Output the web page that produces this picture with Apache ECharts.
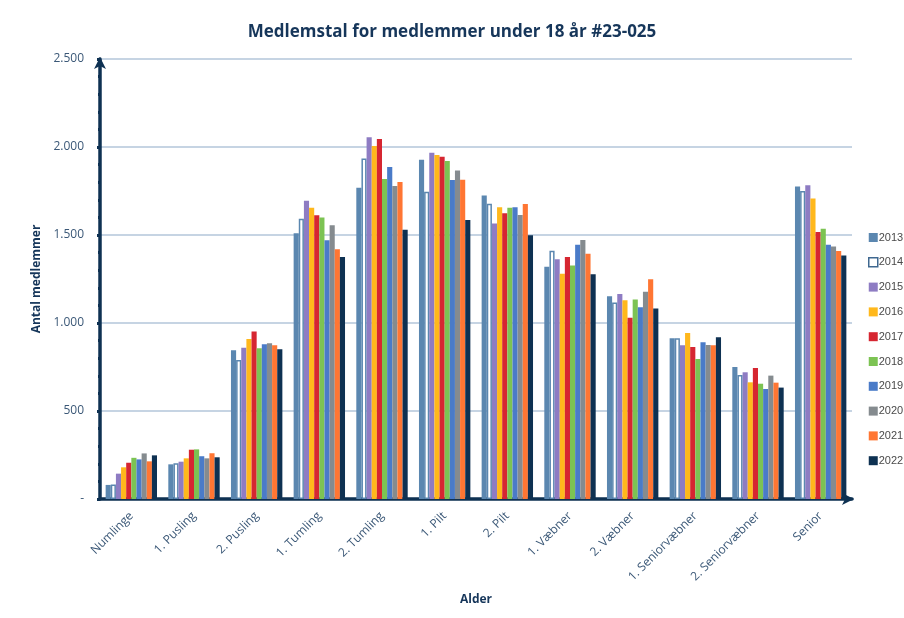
<!DOCTYPE html>
<html>
<head>
<meta charset="utf-8">
<script src="https://cdn.jsdelivr.net/npm/echarts@6/dist/echarts.min.js"></script>
<style>
  html, body { margin: 0; padding: 0; background: #fff; }
  #chart { width: 904px; height: 618px; }
</style>
</head>
<body>
<div id="chart"></div>
<script>
const categories = ['Numlinge', '1. Pusling', '2. Pusling', '1. Tumling', '2. Tumling', '1. Pilt',
  '2. Pilt', '1. Væbner', '2. Væbner', '1. Seniorvæbner', '2. Seniorvæbner', 'Senior']

const years = ['2013', '2014', '2015', '2016', '2017', '2018', '2019', '2020', '2021', '2022']

const v2013 = [80, 197, 845, 1510, 1769, 1928, 1725, 1320, 1152, 913, 750, 1776]
const v2014 = [83, 203, 790, 1593, 1934, 1746, 1678, 1411, 1117, 913, 705, 1750]
const v2015 = [144, 212, 860, 1695, 2055, 1968, 1566, 1362, 1165, 873, 720, 1782]
const v2016 = [180, 231, 909, 1655, 2006, 1955, 1657, 1280, 1129, 943, 663, 1708]
const v2017 = [206, 280, 951, 1612, 2045, 1945, 1623, 1375, 1030, 864, 744, 1517]
const v2018 = [234, 282, 856, 1599, 1818, 1920, 1655, 1326, 1133, 795, 655, 1536]
const v2019 = [225, 243, 879, 1470, 1886, 1812, 1657, 1445, 1089, 890, 625, 1445]
const v2020 = [259, 231, 885, 1555, 1778, 1866, 1614, 1472, 1178, 875, 701, 1434]
const v2021 = [214, 260, 873, 1419, 1801, 1814, 1676, 1394, 1248, 873, 661, 1409]
const v2022 = [248, 237, 851, 1375, 1530, 1585, 1498, 1277, 1083, 919, 633, 1384]

const values = [v2013, v2014, v2015, v2016, v2017, v2018, v2019, v2020, v2021, v2022]

const colors = ['#5b87b0', '#ffffff', '#8e7cc3', '#ffb81c', '#d62631', '#7cc353',
  '#4a7bc8', '#858b8f', '#ff7633', '#0e3152']

const navy = '#0e3152'

// tusindtalsseparator med punktum, 0 vises som "-"
const fmt = (v) => (v === 0 ? '-' : String(v).replace(/\B(?=(\d{3})+(?!\d))/g, '.'))

const chart = echarts.init(document.getElementById('chart'))

const series = years.map((y, i) => ({
  name: y,
  type: 'bar',
  data: values[i],
  barGap: '0%',
  barCategoryGap: '18%',
  itemStyle: i === 1
    ? { color: '#ffffff', borderColor: '#5b87b0', borderWidth: 1.5 }
    : { color: colors[i] }
}))

chart.setOption({
  animation: false,
  title: {
    text: 'Medlemstal for medlemmer under 18 år #23-025',
    left: 'center',
    top: 19,
    textStyle: { fontFamily: 'Open Sans', fontSize: 17, fontWeight: 'bold', color: '#16365a' }
  },
  legend: {
    orient: 'vertical',
    left: 863,
    top: 227,
    itemWidth: 9,
    itemHeight: 9,
    itemGap: 13.8,
    icon: 'rect',
    data: years.map((y, i) => i === 1
      ? { name: y, itemStyle: { color: '#fff', borderColor: '#3f6890', borderWidth: 1.5 } }
      : { name: y }),
    textStyle: { fontFamily: 'Liberation Sans', fontSize: 11, color: '#4a4a4a', padding: [0, 0, 0, -4] }
  },
  color: colors,
  grid: { left: 100, right: 52, top: 59, bottom: 119 },
  xAxis: {
    type: 'category',
    data: categories,
    name: 'Alder',
    nameLocation: 'middle',
    nameGap: 95,
    nameTextStyle: { fontFamily: 'Open Sans', fontSize: 12, fontWeight: 'bold', color: '#16365a' },
    axisLine: {
      lineStyle: { color: navy, width: 3.5 },
      symbol: ['none', 'arrow'],
      symbolSize: [9, 12],
      symbolOffset: [0, 2]
    },
    axisTick: { show: false },
    axisLabel: {
      rotate: 45,
      margin: 15,
      interval: 0,
      fontFamily: 'Open Sans',
      fontSize: 12,
      color: '#3b5877'
    }
  },
  yAxis: {
    type: 'value',
    min: 0,
    max: 2500,
    interval: 500,
    name: 'Antal medlemmer',
    nameLocation: 'middle',
    nameGap: 53,
    nameTextStyle: { fontFamily: 'Open Sans', fontSize: 12, fontWeight: 'bold', color: '#16365a' },
    axisLine: {
      show: true,
      lineStyle: { color: navy, width: 3.5 },
      symbol: ['none', 'arrow'],
      symbolSize: [9, 12],
      symbolOffset: [0, 2]
    },
    axisTick: { show: true, length: 3, lineStyle: { color: navy, width: 3 } },
    minorTick: { show: true, splitNumber: 5, length: 2, lineStyle: { color: navy, width: 3 } },
    axisLabel: {
      margin: 16,
      fontFamily: 'Open Sans',
      fontSize: 12,
      color: '#3b5877',
      formatter: fmt
    },
    splitLine: { lineStyle: { color: '#b3c6da', width: 1.5 } }
  },
  series
})

window.addEventListener('resize', () => {
  chart.resize()
})
</script>
</body>
</html>
